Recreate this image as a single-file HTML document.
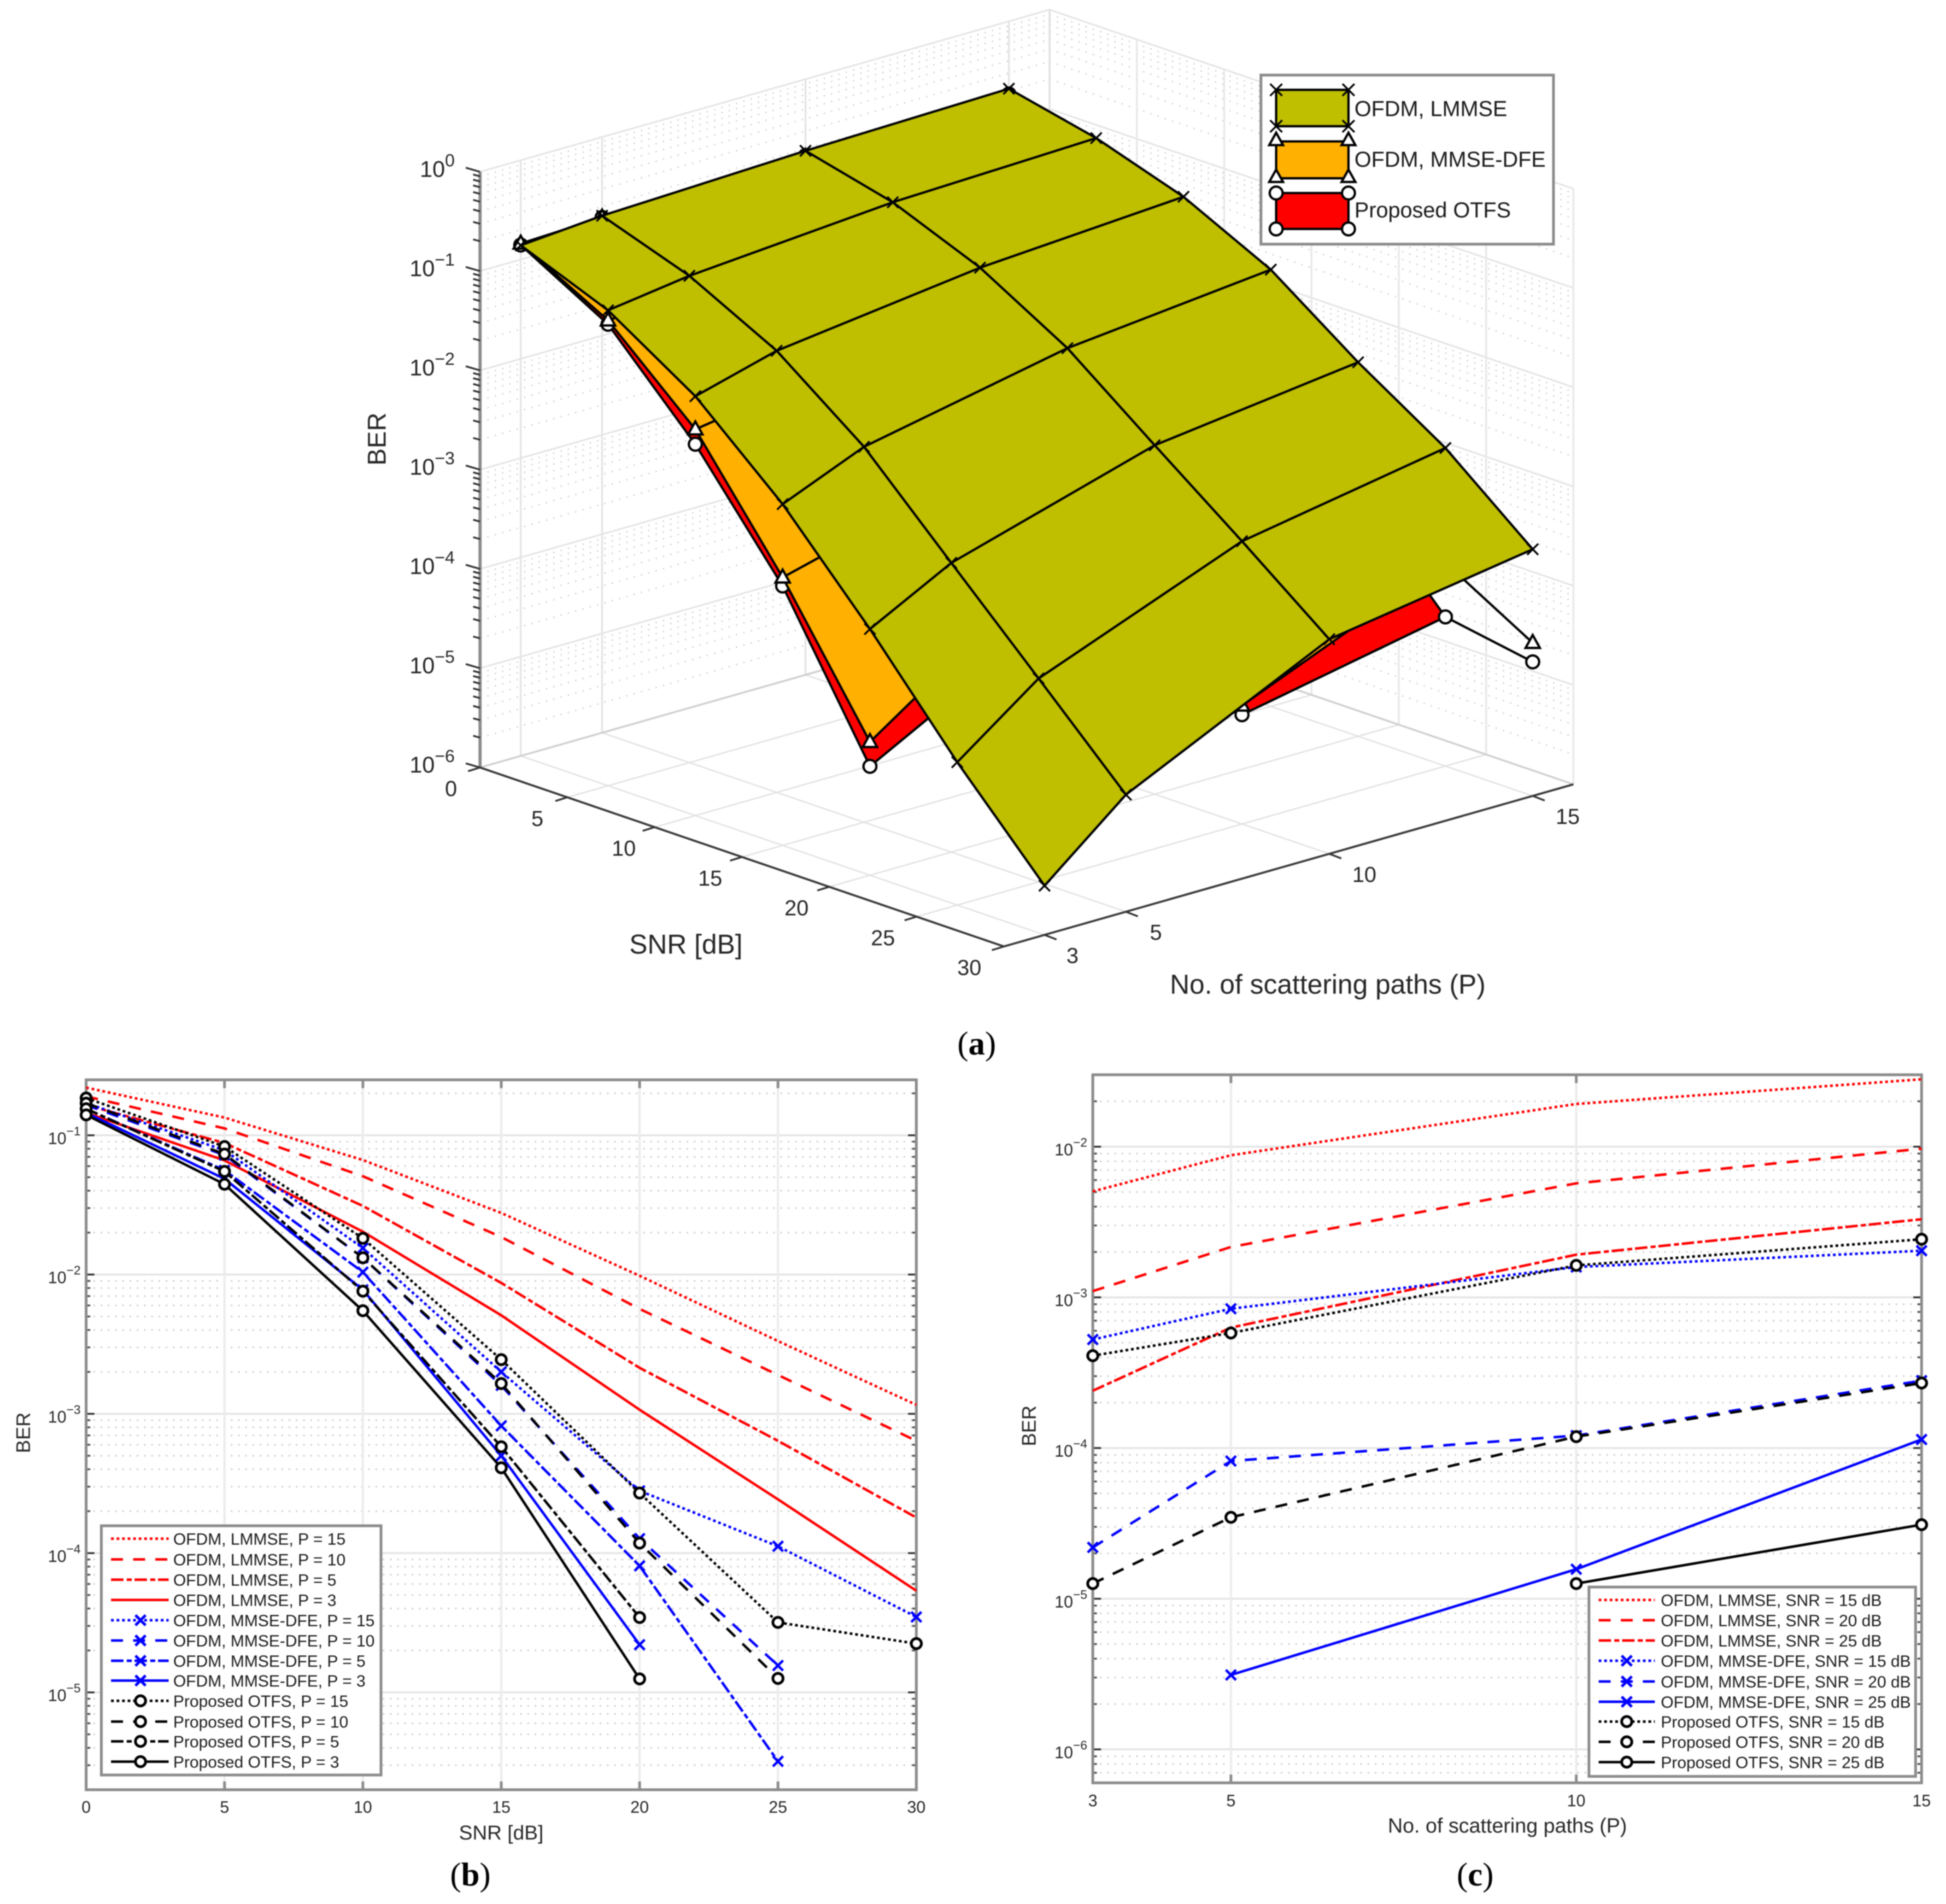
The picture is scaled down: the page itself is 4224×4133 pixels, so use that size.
<!DOCTYPE html>
<html lang="en">
<head>
<meta charset="utf-8">
<title>BER performance charts</title>
<style>
html,body{margin:0;padding:0;background:#fff;}
svg{display:block;filter:blur(1.4px);}
text{font-family:"Liberation Sans",sans-serif;fill:#262626;}
.cap{font-family:"Liberation Serif",serif;font-size:72px;fill:#000;}
.cap tspan.b{font-weight:bold;}
.lt{font-size:35.6px;fill:#1a1a1a;}
.lt3{font-size:47px;fill:#1a1a1a;}
.ln{fill:none;stroke-width:5.5;}
.r{stroke:#ff0000;}
.u{stroke:#0000ff;}
.k{stroke:#000000;}
.dot{stroke-dasharray:6 6;}
.dash{stroke-dasharray:26 22;}
.dd{stroke-dasharray:27 7 11 6;}
.x{fill:none;stroke-width:6;}
.o{fill:#fff;stroke:#000;stroke-width:6;}
.box{fill:#fff;stroke:#8c8c8c;stroke-width:6;}
</style>
</head>
<body>
<svg id="figure" xmlns="http://www.w3.org/2000/svg" width="4224" height="4133" viewBox="0 0 4224 4133">
<rect x="0" y="0" width="4224" height="4133" fill="#fff"/>

<g id="panel-a"></g>
<text font-size="56" text-anchor="middle" transform="translate(837 953) rotate(-90)">BER</text>
<text font-size="59" text-anchor="middle" x="1489" y="2070">SNR [dB]</text>
<text font-size="59" text-anchor="middle" x="2882" y="2157">No. of scattering paths (P)</text>
<text class="cap" text-anchor="middle" x="2120" y="2289">(<tspan class="b">a</tspan>)</text>

<g>
  <rect class="box" x="2737" y="163" width="635" height="367"/>
  <g>
    <rect x="2770" y="195" width="157" height="79" fill="#bfbf00" stroke="#000" stroke-width="5"/>
    <path d="M2757 182l26 26M2757 208l26 -26M2914 182l26 26M2914 208l26 -26M2757 261l26 26M2757 287l26 -26M2914 261l26 26M2914 287l26 -26" stroke="#000" stroke-width="4" fill="none"/>
    <text class="lt3" x="2940" y="252">OFDM, LMMSE</text>
  </g>
  <g>
    <rect x="2770" y="307" width="157" height="80" fill="#ffb000" stroke="#000" stroke-width="5"/>
    <path d="M2770 288l15 27h-30zM2927 288l15 27h-30zM2770 368l15 27h-30zM2927 368l15 27h-30z" fill="#fff" stroke="#000" stroke-width="5"/>
    <text class="lt3" x="2940" y="362">OFDM, MMSE-DFE</text>
  </g>
  <g>
    <rect x="2770" y="419" width="157" height="78" fill="#ff0000" stroke="#000" stroke-width="5"/>
    <circle cx="2770" cy="419" r="14" fill="#fff" stroke="#000" stroke-width="5"/>
    <circle cx="2927" cy="419" r="14" fill="#fff" stroke="#000" stroke-width="5"/>
    <circle cx="2770" cy="497" r="14" fill="#fff" stroke="#000" stroke-width="5"/>
    <circle cx="2927" cy="497" r="14" fill="#fff" stroke="#000" stroke-width="5"/>
    <text class="lt3" x="2940" y="472">Proposed OTFS</text>
  </g>
</g>

<g id="panel-b"></g>
<text font-size="43" text-anchor="middle" transform="translate(65 3110) rotate(-90)">BER</text>
<text font-size="44" text-anchor="middle" x="1088" y="3993">SNR [dB]</text>
<text class="cap" text-anchor="middle" x="1021" y="4093">(<tspan class="b">b</tspan>)</text>

<g>
  <rect class="box" x="220" y="3312" width="607" height="541"/>
  <g><line class="ln r dot" x1="241" y1="3340" x2="366" y2="3340"/><text class="lt" x="376" y="3353">OFDM, LMMSE, P = 15</text></g>
  <g><line class="ln r dash" x1="241" y1="3385" x2="366" y2="3385"/><text class="lt" x="376" y="3398">OFDM, LMMSE, P = 10</text></g>
  <g><line class="ln r dd" x1="241" y1="3429" x2="366" y2="3429"/><text class="lt" x="376" y="3442">OFDM, LMMSE, P = 5</text></g>
  <g><line class="ln r" x1="241" y1="3473" x2="366" y2="3473"/><text class="lt" x="376" y="3486">OFDM, LMMSE, P = 3</text></g>
  <g><line class="ln u dot" x1="241" y1="3517" x2="366" y2="3517"/><path class="x u" transform="translate(305 3517)" d="M-11 -11L11 11M-11 11L11 -11"/><text class="lt" x="376" y="3530">OFDM, MMSE-DFE, P = 15</text></g>
  <g><line class="ln u dash" x1="241" y1="3561" x2="366" y2="3561"/><path class="x u" transform="translate(305 3561)" d="M-11 -11L11 11M-11 11L11 -11"/><text class="lt" x="376" y="3574">OFDM, MMSE-DFE, P = 10</text></g>
  <g><line class="ln u dd" x1="241" y1="3605" x2="366" y2="3605"/><path class="x u" transform="translate(305 3605)" d="M-11 -11L11 11M-11 11L11 -11"/><text class="lt" x="376" y="3618">OFDM, MMSE-DFE, P = 5</text></g>
  <g><line class="ln u" x1="241" y1="3648" x2="366" y2="3648"/><path class="x u" transform="translate(305 3648)" d="M-11 -11L11 11M-11 11L11 -11"/><text class="lt" x="376" y="3661">OFDM, MMSE-DFE, P = 3</text></g>
  <g><line class="ln k dot" x1="241" y1="3692" x2="366" y2="3692"/><circle class="o" cx="305" cy="3692" r="11"/><text class="lt" x="376" y="3705">Proposed OTFS, P = 15</text></g>
  <g><line class="ln k dash" x1="241" y1="3737" x2="366" y2="3737"/><circle class="o" cx="305" cy="3737" r="11"/><text class="lt" x="376" y="3750">Proposed OTFS, P = 10</text></g>
  <g><line class="ln k dd" x1="241" y1="3780" x2="366" y2="3780"/><circle class="o" cx="305" cy="3780" r="11"/><text class="lt" x="376" y="3793">Proposed OTFS, P = 5</text></g>
  <g><line class="ln k" x1="241" y1="3824" x2="366" y2="3824"/><circle class="o" cx="305" cy="3824" r="11"/><text class="lt" x="376" y="3837">Proposed OTFS, P = 3</text></g>
</g>

<g id="panel-c"></g>
<text font-size="43" text-anchor="middle" transform="translate(2248 3095) rotate(-90)">BER</text>
<text font-size="44.7" text-anchor="middle" x="3272" y="3978">No. of scattering paths (P)</text>
<text class="cap" text-anchor="middle" x="3202" y="4093">(<tspan class="b">c</tspan>)</text>

<g>
  <rect class="box" x="3449" y="3445" width="709" height="411"/>
  <g><line class="ln r dot" x1="3470" y1="3473" x2="3592" y2="3473"/><text class="lt" x="3605" y="3486">OFDM, LMMSE, SNR = 15 dB</text></g>
  <g><line class="ln r dash" x1="3470" y1="3517" x2="3592" y2="3517"/><text class="lt" x="3605" y="3530">OFDM, LMMSE, SNR = 20 dB</text></g>
  <g><line class="ln r dd" x1="3470" y1="3561" x2="3592" y2="3561"/><text class="lt" x="3605" y="3574">OFDM, LMMSE, SNR = 25 dB</text></g>
  <g><line class="ln u dot" x1="3470" y1="3605" x2="3592" y2="3605"/><path class="x u" transform="translate(3531 3605)" d="M-11 -11L11 11M-11 11L11 -11"/><text class="lt" x="3605" y="3618">OFDM, MMSE-DFE, SNR = 15 dB</text></g>
  <g><line class="ln u dash" x1="3470" y1="3650" x2="3592" y2="3650"/><path class="x u" transform="translate(3531 3650)" d="M-11 -11L11 11M-11 11L11 -11"/><text class="lt" x="3605" y="3663">OFDM, MMSE-DFE, SNR = 20 dB</text></g>
  <g><line class="ln u" x1="3470" y1="3694" x2="3592" y2="3694"/><path class="x u" transform="translate(3531 3694)" d="M-11 -11L11 11M-11 11L11 -11"/><text class="lt" x="3605" y="3707">OFDM, MMSE-DFE, SNR = 25 dB</text></g>
  <g><line class="ln k dot" x1="3470" y1="3737" x2="3592" y2="3737"/><circle class="o" cx="3531" cy="3737" r="11"/><text class="lt" x="3605" y="3750">Proposed OTFS, SNR = 15 dB</text></g>
  <g><line class="ln k dash" x1="3470" y1="3781" x2="3592" y2="3781"/><circle class="o" cx="3531" cy="3781" r="11"/><text class="lt" x="3605" y="3794">Proposed OTFS, SNR = 20 dB</text></g>
  <g><line class="ln k" x1="3470" y1="3825" x2="3592" y2="3825"/><circle class="o" cx="3531" cy="3825" r="11"/><text class="lt" x="3605" y="3838">Proposed OTFS, SNR = 25 dB</text></g>
</g>
</svg>

<script>
/* ---------- shared categories ---------- */
const snrValues = [0, 5, 10, 15, 20, 25, 30];
const pathValues = [3, 5, 10, 15];

/* ---------- panel (b): BER vs SNR ---------- */
const bLmmseP15 = [0.22, 0.134, 0.0664, 0.0277, 0.0098, 0.00333, 0.00116];
const bLmmseP10 = [0.19, 0.112, 0.0508, 0.0186, 0.00567, 0.0019, 0.00064];
const bLmmseP5 = [0.165, 0.088, 0.0311, 0.00871, 0.00214, 0.00064, 0.00018];
const bLmmseP3 = [0.145, 0.066, 0.0203, 0.0051, 0.00107, 0.000243, 0.0000537];
const bMmseP15 = [0.17, 0.078, 0.0155, 0.002, 0.00028, 0.000112, 0.0000348];
const bMmseP10 = [0.165, 0.072, 0.0132, 0.0016, 0.000127, 0.0000156, null];
const bMmseP5 = [0.155, 0.056, 0.0104, 0.00082, 0.000081, 0.0000032, null];
const bMmseP3 = [0.145, 0.0487, 0.00777, 0.0005, 0.000022, null, null];
const bOtfsP15 = [0.185, 0.083, 0.0182, 0.00245, 0.00027, 0.0000318, 0.0000224];
const bOtfsP10 = [0.17, 0.0733, 0.0132, 0.00165, 0.000118, 0.0000126, null];
const bOtfsP5 = [0.155, 0.055, 0.0076, 0.00058, 0.0000345, null, null];
const bOtfsP3 = [0.14, 0.0445, 0.0055, 0.00041, 0.0000125, null, null];
const bXTicks = [0, 5, 10, 15, 20, 25, 30];
const bYTickExponents = [-1, -2, -3, -4, -5];

/* ---------- panel (c): BER vs scattering paths ---------- */
const cLmmseSnr15 = [0.00505, 0.00877, 0.0192, 0.028];
const cLmmseSnr20 = [0.0011, 0.00216, 0.00571, 0.0097];
const cLmmseSnr25 = [0.00024, 0.00063, 0.00192, 0.0033];
const cMmseSnr15 = [0.000525, 0.00084, 0.00159, 0.00204];
const cMmseSnr20 = [0.0000219, 0.000082, 0.000121, 0.00028];
const cMmseSnr25 = [null, 0.00000312, 0.0000157, 0.000114];
const cOtfsSnr15 = [0.00041, 0.00058, 0.00163, 0.00243];
const cOtfsSnr20 = [0.0000126, 0.0000347, 0.000119, 0.00027];
const cOtfsSnr25 = [null, null, 0.0000126, 0.000031];
const cXTicks = [3, 5, 10, 15];
const cYTickExponents = [-2, -3, -4, -5, -6];

/* ---------- panel (a): LMMSE surface read from the 3-D view ---------- */
const aLmmseP3 = [0.139, 0.0615, 0.01675, 0.00274, 0.000302, 0.0000275, 0.00000313];
const aLmmseP5 = [0.1614, 0.08, 0.0281, 0.00605, 0.000818, 0.000112, 0.0000151];
const aLmmseP10 = [0.19, 0.115, 0.0504, 0.01556, 0.00327, 0.000705, 0.000145];
const aLmmseP15 = [0.2094, 0.133, 0.0681, 0.0251, 0.00585, 0.0016, 0.000305];
const aSnrTicks = [0, 5, 10, 15, 20, 25, 30];
const aPathTicks = [3, 5, 10, 15];
const aZTickExponents = [0, -1, -2, -3, -4, -5, -6];

const NS = 'http://www.w3.org/2000/svg';
const DOT = '6 6', DASH = '26 22', DASHDOT = '27 7 11 6';
const RED = '#ff0000', BLUE = '#0000ff', BLACK = '#000000';

function make(tag, attrs, parent) {
  const node = document.createElementNS(NS, tag);
  for (const key in attrs) node.setAttribute(key, attrs[key]);
  parent.appendChild(node);
  return node;
}

function powerLabel(parent, x, y, exponent, size, supSize, raise, name) {
  const t = make('text', {x: x, y: y, 'text-anchor': 'end', 'font-size': size}, parent);
  
  
  const base = make('tspan', {}, t);
  base.textContent = '10';
  const sup = make('tspan', {dy: -raise, 'font-size': supSize}, t);
  sup.textContent = (exponent < 0 ? '\u2212' : '') + Math.abs(exponent);
}

function drawMarker(parent, kind, x, y, color) {
  let m;
  if (kind === 'x') {
    m = make('path', {d: 'M-11 -11L11 11M-11 11L11 -11', transform: 'translate(' + x + ' ' + y + ')', fill: 'none', stroke: color, 'stroke-width': 5.5}, parent);
    
    
  } else {
    m = make('circle', {cx: x, cy: y, r: 11, fill: '#fff', stroke: color, 'stroke-width': 6}, parent);
    
    
  }
}

function drawPanel(root, box, xMin, xMax, logMin, logMax, xTicks, yExps, series, seriesX) {
  const sx = v => box.left + (v - xMin) / (xMax - xMin) * (box.right - box.left);
  const sy = v => box.bottom - (Math.log10(v) - logMin) / (logMax - logMin) * (box.bottom - box.top);

  const bg = make('rect', {x: box.left, y: box.top, width: box.right - box.left, height: box.bottom - box.top, fill: '#fff'}, root);
  
  

  /* minor horizontal grid and ticks */
  for (let e = Math.floor(logMin); e < Math.ceil(logMax); e++) {
    for (let m = 2; m <= 9; m++) {
      const val = m * Math.pow(10, e);
      if (Math.log10(val) < logMin || Math.log10(val) > logMax) continue;
      const y = sy(val);
      const g = make('line', {x1: box.left, x2: box.right, y1: y, y2: y, stroke: '#cfcfcf', 'stroke-width': 3.5, 'stroke-dasharray': '3.5 12.2'}, root);
      
      
      const t1 = make('line', {x1: box.left, x2: box.left + 9, y1: y, y2: y, stroke: '#555', 'stroke-width': 4}, root);
      
      
      const t2 = make('line', {x1: box.right - 9, x2: box.right, y1: y, y2: y, stroke: '#555', 'stroke-width': 4}, root);
      
      
    }
  }
  /* major grid and y ticks */
  yExps.forEach(function (e) {
    const y = sy(Math.pow(10, e));
    const g = make('line', {x1: box.left, x2: box.right, y1: y, y2: y, stroke: '#e4e4e4', 'stroke-width': 4}, root);
    
    
    const t1 = make('line', {x1: box.left, x2: box.left + 18, y1: y, y2: y, stroke: '#333', 'stroke-width': 4}, root);
    
    
    const t2 = make('line', {x1: box.right - 18, x2: box.right, y1: y, y2: y, stroke: '#333', 'stroke-width': 4}, root);
    
    
    powerLabel(root, box.left - 12, y + 19, e, 36, 27, 19, 'y-tick-label');
  });
  /* x grid, ticks, labels */
  xTicks.forEach(function (v) {
    const x = sx(v);
    const g = make('line', {x1: x, x2: x, y1: box.top, y2: box.bottom, stroke: '#ececec', 'stroke-width': 5}, root);
    
    
    const t1 = make('line', {x1: x, x2: x, y1: box.top, y2: box.top + 18, stroke: '#8c8c8c', 'stroke-width': 6}, root);
    
    
    const t2 = make('line', {x1: x, x2: x, y1: box.bottom - 18, y2: box.bottom, stroke: '#8c8c8c', 'stroke-width': 6}, root);
    
    
    const label = make('text', {x: x, y: box.bottom + box.labelGap, 'text-anchor': 'middle', 'font-size': 36}, root);
    
    
    label.textContent = v;
  });
  /* axes box */
  const frame = make('rect', {x: box.left, y: box.top, width: box.right - box.left, height: box.bottom - box.top, fill: 'none', stroke: '#8c8c8c', 'stroke-width': 6}, root);
  
  

  /* series */
  series.forEach(function (s) {
    let d = '';
    let pen = false;
    s.values.forEach(function (v, i) {
      if (v === null) { pen = false; return; }
      d += (pen ? 'L' : 'M') + sx(seriesX[i]).toFixed(1) + ' ' + sy(v).toFixed(1);
      pen = true;
    });
    const attrs = {d: d, fill: 'none', stroke: s.color, 'stroke-width': 5.5};
    if (s.dash) attrs['stroke-dasharray'] = s.dash;
    const line = make('path', attrs, root);
    
    
    if (s.marker) {
      s.values.forEach(function (v, i) {
        if (v !== null) drawMarker(root, s.marker, sx(seriesX[i]), sy(v), s.color);
      });
    }
  });
}

drawPanel(document.getElementById('panel-b'),
  {left: 187, right: 1989, top: 2344, bottom: 3885, labelGap: 50},
  0, 30, Math.log10(2e-6), Math.log10(0.25), bXTicks, bYTickExponents,
  [
    {id: 'lmmse-p15', values: bLmmseP15, color: RED, dash: DOT, marker: null},
    {id: 'lmmse-p10', values: bLmmseP10, color: RED, dash: DASH, marker: null},
    {id: 'lmmse-p5', values: bLmmseP5, color: RED, dash: DASHDOT, marker: null},
    {id: 'lmmse-p3', values: bLmmseP3, color: RED, dash: null, marker: null},
    {id: 'mmse-p15', values: bMmseP15, color: BLUE, dash: DOT, marker: 'x'},
    {id: 'mmse-p10', values: bMmseP10, color: BLUE, dash: DASH, marker: 'x'},
    {id: 'mmse-p5', values: bMmseP5, color: BLUE, dash: DASHDOT, marker: 'x'},
    {id: 'mmse-p3', values: bMmseP3, color: BLUE, dash: null, marker: 'x'},
    {id: 'otfs-p15', values: bOtfsP15, color: BLACK, dash: DOT, marker: 'o'},
    {id: 'otfs-p10', values: bOtfsP10, color: BLACK, dash: DASH, marker: 'o'},
    {id: 'otfs-p5', values: bOtfsP5, color: BLACK, dash: DASHDOT, marker: 'o'},
    {id: 'otfs-p3', values: bOtfsP3, color: BLACK, dash: null, marker: 'o'}
  ], snrValues);

drawPanel(document.getElementById('panel-c'),
  {left: 2372, right: 4171, top: 2333, bottom: 3870, labelGap: 51},
  3, 15, Math.log10(6e-7), Math.log10(0.03), cXTicks, cYTickExponents,
  [
    {id: 'lmmse-snr15', values: cLmmseSnr15, color: RED, dash: DOT, marker: null},
    {id: 'lmmse-snr20', values: cLmmseSnr20, color: RED, dash: DASH, marker: null},
    {id: 'lmmse-snr25', values: cLmmseSnr25, color: RED, dash: DASHDOT, marker: null},
    {id: 'mmse-snr15', values: cMmseSnr15, color: BLUE, dash: DOT, marker: 'x'},
    {id: 'mmse-snr20', values: cMmseSnr20, color: BLUE, dash: DASH, marker: 'x'},
    {id: 'mmse-snr25', values: cMmseSnr25, color: BLUE, dash: null, marker: 'x'},
    {id: 'otfs-snr15', values: cOtfsSnr15, color: BLACK, dash: DOT, marker: 'o'},
    {id: 'otfs-snr20', values: cOtfsSnr20, color: BLACK, dash: DASH, marker: 'o'},
    {id: 'otfs-snr25', values: cOtfsSnr25, color: BLACK, dash: null, marker: 'o'}
  ], pathValues);

/* ---------- panel (a) projection ---------- */
const P_MIN = 2, P_MAX = 16, S_MAX = 30;
function projectX(snr, p) { return 1042 + 37.9 * snr + 88.3 * (p - P_MIN); }
function projectY(snr, p, ber) { return 1666 + 12.95 * snr - 25.14 * (p - P_MIN) - 215.5 * (Math.log10(ber) + 6); }
function pt(snr, p, ber) { return projectX(snr, p).toFixed(1) + ',' + projectY(snr, p, ber).toFixed(1); }

function seg(parent, a, b, color, width, dash, name) {
  const attrs = {x1: projectX(a[0], a[1]), y1: projectY(a[0], a[1], a[2]), x2: projectX(b[0], b[1]), y2: projectY(b[0], b[1], b[2]), stroke: color, 'stroke-width': width};
  if (dash) attrs['stroke-dasharray'] = dash;
  const l = make('line', attrs, parent);
  
  
  return l;
}

function drawBox3d(root) {
  const LOW = 1e-6, HIGH = 1;
  /* wall minor grid */
  for (let e = -6; e < 0; e++) {
    for (let m = 2; m <= 9; m++) {
      const v = m * Math.pow(10, e);
      seg(root, [0, P_MIN, v], [0, P_MAX, v], '#d0d0d0', 3, '3 13.5', 'wall-minor-grid-line');
      seg(root, [0, P_MAX, v], [S_MAX, P_MAX, v], '#d0d0d0', 3, '3 13.5', 'wall-minor-grid-line');
    }
  }
  /* wall major grid */
  aZTickExponents.forEach(function (e) {
    const v = Math.pow(10, e);
    seg(root, [0, P_MIN, v], [0, P_MAX, v], '#e4e4e4', 3.5, null, 'wall-major-grid-line');
    seg(root, [0, P_MAX, v], [S_MAX, P_MAX, v], '#e4e4e4', 3.5, null, 'wall-major-grid-line');
  });
  aPathTicks.forEach(function (p) {
    seg(root, [0, p, LOW], [0, p, HIGH], '#e4e4e4', 4, null, 'wall-vertical-grid-line');
    seg(root, [0, p, LOW], [S_MAX, p, LOW], '#e2e2e2', 3, null, 'floor-grid-line');
  });
  aSnrTicks.forEach(function (s) {
    seg(root, [s, P_MAX, LOW], [s, P_MAX, HIGH], '#e8e8e8', 4, null, 'wall-vertical-grid-line');
    seg(root, [s, P_MIN, LOW], [s, P_MAX, LOW], '#e2e2e2', 3, null, 'floor-grid-line');
  });
  seg(root, [0, P_MAX, LOW], [0, P_MAX, HIGH], '#e0e0e0', 4, null, 'wall-corner-line');
  seg(root, [0, P_MIN, LOW], [0, P_MAX, LOW], '#cfcfcf', 4, null, 'floor-back-edge');
  seg(root, [0, P_MAX, LOW], [S_MAX, P_MAX, LOW], '#cfcfcf', 4, null, 'floor-back-edge');

  /* axes */
  seg(root, [0, P_MIN, LOW], [0, P_MIN, HIGH], '#8c8c8c', 7, null, 'ber-axis-line');
  seg(root, [0, P_MIN, LOW], [S_MAX, P_MIN, LOW], '#3a3a3a', 4.5, null, 'snr-axis-line');
  seg(root, [S_MAX, P_MIN, LOW], [S_MAX, P_MAX, LOW], '#3a3a3a', 4.5, null, 'paths-axis-line');

  /* ber ticks and labels */
  for (let e = -6; e < 0; e++) {
    for (let m = 2; m <= 9; m++) {
      const v = m * Math.pow(10, e);
      const x = projectX(0, P_MIN), y = projectY(0, P_MIN, v);
      const t = make('line', {x1: x, y1: y, x2: x - 15, y2: y - 4, stroke: '#333', 'stroke-width': 4}, root);
      
      
    }
  }
  aZTickExponents.forEach(function (e) {
    const v = Math.pow(10, e);
    const x = projectX(0, P_MIN), y = projectY(0, P_MIN, v);
    const t = make('line', {x1: x, y1: y, x2: x - 31, y2: y - 9, stroke: '#333', 'stroke-width': 4}, root);
    
    
    powerLabel(root, 987, y + 11, e, 49, 38, 23, 'ber-tick-label');
  });
  /* snr ticks and labels */
  aSnrTicks.forEach(function (s) {
    const x = projectX(s, P_MIN), y = projectY(s, P_MIN, LOW);
    const t = make('line', {x1: x, y1: y, x2: x - 26, y2: y + 8, stroke: '#333', 'stroke-width': 4}, root);
    
    
    const label = make('text', {x: x - 63 - 0.4 * s, y: y + 62, 'text-anchor': 'middle', 'font-size': 47}, root);
    
    
    label.textContent = s;
  });
  /* path ticks and labels */
  aPathTicks.forEach(function (p) {
    const x = projectX(S_MAX, p), y = projectY(S_MAX, p, LOW);
    const t = make('line', {x1: x, y1: y, x2: x + 26, y2: y + 10, stroke: '#333', 'stroke-width': 4}, root);
    
    
    const label = make('text', {x: x + 76 + Math.min(0, p - 10) * 2.2, y: y + 61, 'text-anchor': 'middle', 'font-size': 47}, root);
    
    
    label.textContent = p;
  });
}

function drawSurface(root, grid, color, markerKind, surfaceName) {
  /* far faces first: high P and low SNR sit at the back of this view */
  for (let pi = pathValues.length - 2; pi >= 0; pi--) {
    for (let si = 0; si < snrValues.length - 1; si++) {
      const a = grid[pi][si], b = grid[pi][si + 1], c = grid[pi + 1][si + 1], d = grid[pi + 1][si];
      if (a === null || b === null || c === null || d === null) continue;
      const points = [
        pt(snrValues[si], pathValues[pi], a),
        pt(snrValues[si + 1], pathValues[pi], b),
        pt(snrValues[si + 1], pathValues[pi + 1], c),
        pt(snrValues[si], pathValues[pi + 1], d)
      ].join(' ');
      const face = make('polygon', {points: points, fill: color, stroke: color, 'stroke-width': 1}, root);
      
      
    }
  }
  /* mesh lines */
  for (let pi = 0; pi < pathValues.length; pi++) {
    for (let si = 0; si < snrValues.length; si++) {
      const v = grid[pi][si];
      if (v === null) continue;
      if (si + 1 < snrValues.length && grid[pi][si + 1] !== null) {
        seg(root, [snrValues[si], pathValues[pi], v], [snrValues[si + 1], pathValues[pi], grid[pi][si + 1]], '#000', 5, null, surfaceName + '-mesh-line');
      }
      if (pi + 1 < pathValues.length && grid[pi + 1][si] !== null) {
        seg(root, [snrValues[si], pathValues[pi], v], [snrValues[si], pathValues[pi + 1], grid[pi + 1][si]], '#000', 5, null, surfaceName + '-mesh-line');
      }
    }
  }
  /* vertex markers */
  for (let pi = 0; pi < pathValues.length; pi++) {
    for (let si = 0; si < snrValues.length; si++) {
      const v = grid[pi][si];
      if (v === null) continue;
      const x = projectX(snrValues[si], pathValues[pi]);
      const y = projectY(snrValues[si], pathValues[pi], v);
      let m;
      if (markerKind === 'circle') {
        m = make('circle', {cx: x, cy: y, r: 14, fill: '#fff', stroke: '#000', 'stroke-width': 5}, root);
      } else if (markerKind === 'triangle') {
        m = make('path', {d: 'M0 -17L15.5 11H-15.5Z', transform: 'translate(' + x + ' ' + y + ')', fill: '#fff', stroke: '#000', 'stroke-width': 5}, root);
      } else {
        m = make('path', {d: 'M-12 -12L12 12M-12 12L12 -12', transform: 'translate(' + x + ' ' + y + ')', fill: 'none', stroke: '#000', 'stroke-width': 4}, root);
      }
      
      
    }
  }
}

const panelA = document.getElementById('panel-a');
drawBox3d(panelA);
drawSurface(panelA, [bOtfsP3, bOtfsP5, bOtfsP10, bOtfsP15], '#ff0000', 'circle', 'otfs-surface');
drawSurface(panelA, [bMmseP3, bMmseP5, bMmseP10, bMmseP15], '#ffb000', 'triangle', 'mmse-dfe-surface');
drawSurface(panelA, [aLmmseP3, aLmmseP5, aLmmseP10, aLmmseP15], '#bfbf00', 'cross', 'lmmse-surface');
</script>
</body>
</html>
